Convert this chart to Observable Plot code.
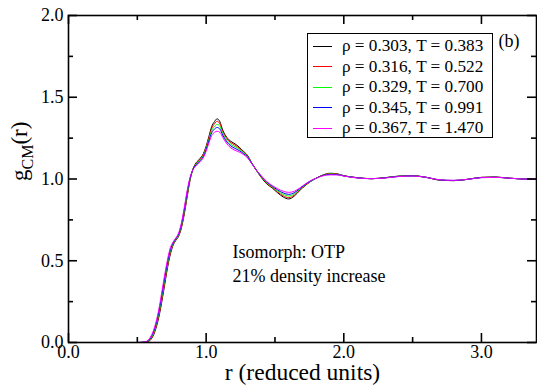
<!DOCTYPE html>
<html><head><meta charset="utf-8">
<script src="https://cdn.jsdelivr.net/npm/d3@7"></script>
<script src="https://cdn.jsdelivr.net/npm/@observablehq/plot@0.6"></script>
<style>
body{margin:0;background:#fff;}
#wrap{position:relative;width:537px;height:388px;font-family:"Liberation Serif","Times New Roman",serif;}
#legend{position:absolute;left:307px;top:33px;width:186px;height:105px;border:1px solid #000;background:#fff;box-sizing:border-box;}
.row{position:absolute;left:0;height:20px;display:flex;align-items:center;font-size:17.2px;white-space:nowrap;color:#000;}
.sw{display:inline-block;width:19px;height:0;border-top:1px solid;margin-left:5px;margin-right:10px;}
</style></head><body><div id="wrap"></div>
<script>
const r = [0.50,0.56,0.58,0.60,0.62,0.64,0.66,0.68,0.70,0.72,
0.74,0.76,0.78,0.80,0.82,0.84,0.86,0.88,0.90,0.92,
0.95,0.98,1.00,1.02,1.04,1.06,1.08,1.10,1.12,1.15,
1.18,1.21,1.24,1.27,1.30,1.33,1.36,1.40,1.44,1.48,
1.52,1.56,1.60,1.64,1.68,1.72,1.76,1.80,1.85,1.90,
1.95,2.00,2.10,2.20,2.30,2.40,2.50,2.60,2.70,2.80,
2.90,3.00,3.10,3.20,3.30,3.40];

const g303 = [0,0,0.005,0.02,0.05,0.10,0.17,0.26,0.36,0.46,
0.54,0.595,0.625,0.65,0.70,0.78,0.88,0.98,1.05,1.09,
1.12,1.155,1.20,1.26,1.32,1.35,1.368,1.35,1.30,1.255,
1.23,1.215,1.195,1.17,1.145,1.10,1.06,1.01,0.97,0.945,
0.915,0.89,0.878,0.895,0.93,0.96,0.985,1.005,1.025,1.035,
1.032,1.02,1.008,1.002,1.008,1.018,1.02,1.01,0.993,0.99,
0.998,1.01,1.012,1.005,1.0,0.998];

const g316 = [0,0.001,0.007,0.024,0.056,0.108,0.18,0.272,0.372,0.47,
0.548,0.599,0.628,0.654,0.706,0.788,0.888,0.984,1.05,1.087,
1.116,1.15,1.194,1.252,1.309,1.337,1.353,1.337,1.291,1.247,
1.222,1.207,1.189,1.166,1.142,1.099,1.06,1.012,0.973,0.948,
0.92,0.897,0.886,0.901,0.933,0.962,0.986,1.005,1.024,1.033,
1.031,1.02,1.008,1.002,1.008,1.017,1.02,1.01,0.993,0.99,
0.998,1.01,1.012,1.005,1.0,0.998];

const g329 = [0,0.002,0.010,0.029,0.064,0.118,0.193,0.287,0.387,0.483,
0.558,0.604,0.632,0.659,0.714,0.798,0.898,0.989,1.05,1.083,
1.111,1.144,1.187,1.242,1.295,1.321,1.334,1.321,1.28,1.237,
1.212,1.197,1.182,1.161,1.138,1.098,1.06,1.015,0.977,0.952,
0.926,0.906,0.896,0.909,0.937,0.965,0.987,1.005,1.023,1.031,
1.029,1.019,1.007,1.002,1.007,1.017,1.019,1.01,0.994,0.991,
0.998,1.009,1.011,1.005,1.0,0.998];

const g345 = [0,0.004,0.012,0.034,0.071,0.128,0.205,0.302,0.402,0.495,
0.568,0.609,0.636,0.664,0.721,0.808,0.908,0.994,1.05,1.08,
1.106,1.138,1.179,1.232,1.282,1.305,1.315,1.305,1.269,1.227,
1.202,1.187,1.174,1.156,1.135,1.097,1.06,1.017,0.981,0.956,
0.933,0.915,0.906,0.916,0.941,0.967,0.989,1.005,1.022,1.028,
1.027,1.019,1.007,1.002,1.007,1.016,1.019,1.01,0.994,0.991,
0.998,1.009,1.011,1.005,1.0,0.998];

const g367 = [0,0.005,0.015,0.04,0.08,0.14,0.22,0.32,0.42,0.51,
0.58,0.615,0.64,0.67,0.73,0.82,0.92,1.00,1.05,1.075,
1.10,1.13,1.17,1.22,1.265,1.285,1.292,1.285,1.255,1.215,
1.19,1.175,1.165,1.15,1.13,1.095,1.06,1.02,0.985,0.96,
0.94,0.925,0.918,0.925,0.945,0.97,0.99,1.005,1.02,1.025,
1.025,1.018,1.006,1.002,1.006,1.015,1.018,1.01,0.995,0.992,
0.998,1.008,1.01,1.005,1.0,0.998];

const seriesLabels = ["ρ = 0.303, T = 0.383","ρ = 0.316, T = 0.522","ρ = 0.329, T = 0.700","ρ = 0.345, T = 0.991","ρ = 0.367, T = 1.470"];
const seriesColors = ["#000000","#ff0000","#00ff00","#0000ff","#ff00ff"];
const seriesValues = [g303, g316, g329, g345, g367];

const xMajor = [0,1,2,3];
const xMinor = [0.5,1.5,2.5];
const yMajor = [0,0.5,1,1.5,2];
const yMinor = [0.25,0.75,1.25,1.75];

const xLabel = "r (reduced units)";
const yLabel = "gCM(r)";
const panelTag = "(b)";
const note = "Isomorph: OTP\n21% density increase";

const data = seriesValues.flatMap((vals, i) => vals.map((g, j) => ({r: r[j], g, series: seriesLabels[i]})));

const W = 537, H = 388, ML = 68, MR = 1, MT = 15, MB = 46;
const innerW = W - ML - MR, innerH = H - MT - MB;
const MAJ = 9, MIN = 5;
const fmt = d3.format(".1f");
const tk = {stroke: "black", strokeWidth: 1.6};

const chart = Plot.plot({
  width: W, height: H,
  marginLeft: ML, marginRight: MR, marginTop: MT, marginBottom: MB,
  x: {domain: [0, 3.4]},
  y: {domain: [0, 2]},
  color: {domain: seriesLabels, range: seriesColors},
  style: {fontFamily: '"Liberation Serif","Times New Roman",serif', fontSize: "18px", background: "white", color: "black"},
  marks: [
    Plot.line(data, {x: "r", y: "g", z: "series", stroke: "series", strokeWidth: 1, curve: "monotone-x"}),
    // inward ticks on all four sides
    Plot.tickX(xMajor, {...tk, x: d => d, insetTop: innerH - MAJ}),
    Plot.tickX(xMajor, {...tk, x: d => d, insetBottom: innerH - MAJ}),
    Plot.tickX(xMinor, {...tk, x: d => d, insetTop: innerH - MIN}),
    Plot.tickX(xMinor, {...tk, x: d => d, insetBottom: innerH - MIN}),
    Plot.tickY(yMajor, {...tk, y: d => d, insetRight: innerW - MAJ}),
    Plot.tickY(yMajor, {...tk, y: d => d, insetLeft: innerW - MAJ}),
    Plot.tickY(yMinor, {...tk, y: d => d, insetRight: innerW - MIN}),
    Plot.tickY(yMinor, {...tk, y: d => d, insetLeft: innerW - MIN}),
    Plot.axisX(xMajor, {anchor: "bottom", tickSize: 0, tickPadding: 3, tickFormat: fmt, label: null, fontSize: 18}),
    Plot.axisY(yMajor, {anchor: "left", tickSize: 0, tickPadding: 5, tickFormat: fmt, label: null, fontSize: 18}),
    Plot.frame({stroke: "black", strokeWidth: 1.6}),
    Plot.text([xLabel], {text: d => d, frameAnchor: "bottom", dy: 37, fontSize: 23.5}),
    Plot.text([yLabel], {text: d => d, frameAnchor: "left", dx: -49, dy: 2, rotate: -90, fontSize: 23}),
    Plot.text([panelTag], {text: d => d, frameAnchor: "top-right", dx: -17, dy: 19, fontSize: 18}),
    Plot.text([note], {text: d => d, frameAnchor: "top-left", dx: 164, dy: 247, textAnchor: "start", lineAnchor: "middle", lineHeight: 1.33, fontSize: 18})
  ]
});

const wrap = document.getElementById("wrap");
wrap.appendChild(chart);

// subscript in the y label
d3.select(chart).selectAll("text").each(function() {
  if (this.textContent === yLabel) {
    const t = d3.select(this);
    t.text(null);
    t.append("tspan").text("g");
    t.append("tspan").attr("font-size", 16).attr("dy", 6).text("CM");
    t.append("tspan").attr("dy", -6).text("(r)");
  }
});

// legend
const legend = document.createElement("div");
legend.id = "legend";
seriesLabels.forEach((lab, i) => {
  const row = document.createElement("div");
  row.className = "row";
  row.style.top = (2 + i * 20.5) + "px";
  const sw = document.createElement("span");
  sw.className = "sw";
  sw.style.borderTopColor = seriesColors[i];
  row.appendChild(sw);
  const tx = document.createElement("span");
  tx.textContent = lab;
  row.appendChild(tx);
  legend.appendChild(row);
});
wrap.appendChild(legend);
</script></body></html>
